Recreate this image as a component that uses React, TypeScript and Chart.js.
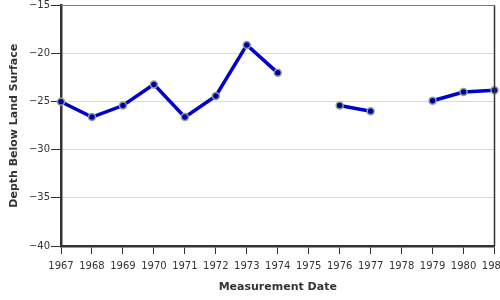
import React, { useEffect, useRef } from "react";
import { Chart, registerables } from "chart.js";

Chart.register(...registerables);

const years = ["1967", "1968", "1969", "1970", "1971", "1972", "1973", "1974", "1975", "1976", "1977", "1978", "1979", "1980", "1981"];
const depth: (number | null)[] = [-25.0, -26.6, -25.4, -23.2, -26.6, -24.4, -19.1, -22.0, null, -25.4, -26.0, null, -24.9, -24.0, -23.8];
const yMin = -40;
const yMax = -15;
const yStep = 5;

const borderPlugin = {
  id: "frameBorder",
  afterDatasetsDraw(chart: any) {
    const { ctx, chartArea } = chart;
    ctx.save();
    ctx.strokeStyle = "#777777";
    ctx.lineWidth = 1.2;
    ctx.beginPath();
    ctx.moveTo(chartArea.left, chartArea.top);
    ctx.lineTo(chartArea.right, chartArea.top);
    ctx.stroke();
    ctx.strokeStyle = "#333333";
    ctx.lineWidth = 1.5;
    ctx.beginPath();
    ctx.moveTo(chartArea.right, chartArea.top);
    ctx.lineTo(chartArea.right, chartArea.bottom);
    ctx.stroke();
    ctx.restore();
  },
};

export default function App() {
  const ref = useRef<HTMLCanvasElement>(null);
  useEffect(() => {
    if (!ref.current) return;
    const chart = new Chart(ref.current, {
      type: "line",
      data: {
        labels: years,
        datasets: [
          {
            data: depth,
            borderColor: "#0000cc",
            borderWidth: 3.5,
            pointRadius: 3.5,
            pointBackgroundColor: "#0000aa",
            pointBorderColor: "#8fa08f",
            pointBorderWidth: 1.5,
            spanGaps: false,
            tension: 0,
          },
        ],
      },
      plugins: [borderPlugin],
      options: {
        animation: false,
        responsive: false,
        maintainAspectRatio: false,
        layout: { padding: { left: 0, right: 5, top: 4, bottom: 0 } },
        plugins: { legend: { display: false }, tooltip: { enabled: false } },
        scales: {
          x: {
            type: "category",
            offset: false,
            afterFit(scale: any) {
              scale.height = 54;
              scale.paddingLeft = 0;
              scale.paddingRight = 0;
            },
            grid: { display: true, drawOnChartArea: false, drawTicks: true, tickLength: 8, tickColor: "#333333" },
            border: { display: true, color: "#333333", width: 2.5 },
            ticks: { color: "#333333", font: { family: "DejaVu Sans", size: 10 }, maxRotation: 0, autoSkip: false, padding: 6 },
            title: { display: true, text: "Measurement Date", color: "#333333", font: { family: "DejaVu Sans", size: 11, weight: "bold" }, padding: { top: 0, bottom: 6.4 } },
          },
          y: {
            min: yMin,
            max: yMax,
            afterFit(scale: any) {
              scale.width = 61;
              scale.paddingTop = 0;
              scale.paddingBottom = 0;
            },
            ticks: {
              stepSize: yStep,
              color: "#333333",
              font: { family: "DejaVu Sans", size: 10 },
              padding: 1,
              callback: (v: any) => (Number(v) < 0 ? "\u2212" + Math.abs(Number(v)) : String(v)),
            },
            grid: { color: "#d8d8d8", lineWidth: 1, drawTicks: true, tickLength: 10, tickColor: "#333333" },
            border: { display: true, color: "#333333", width: 2.5 },
            title: { display: true, text: "Depth Below Land Surface", color: "#333333", font: { family: "DejaVu Sans", size: 11, weight: "bold" }, padding: { top: 7.5, bottom: 0 } },
          },
        },
      },
    });
    return () => chart.destroy();
  }, []);
  return (
    <div style={{ position: "fixed", left: 0, top: 0, width: 500, height: 300, overflow: "hidden", background: "#fff" }}>
      <canvas ref={ref} width={500} height={300} style={{ display: "block" }} />
    </div>
  );
}
